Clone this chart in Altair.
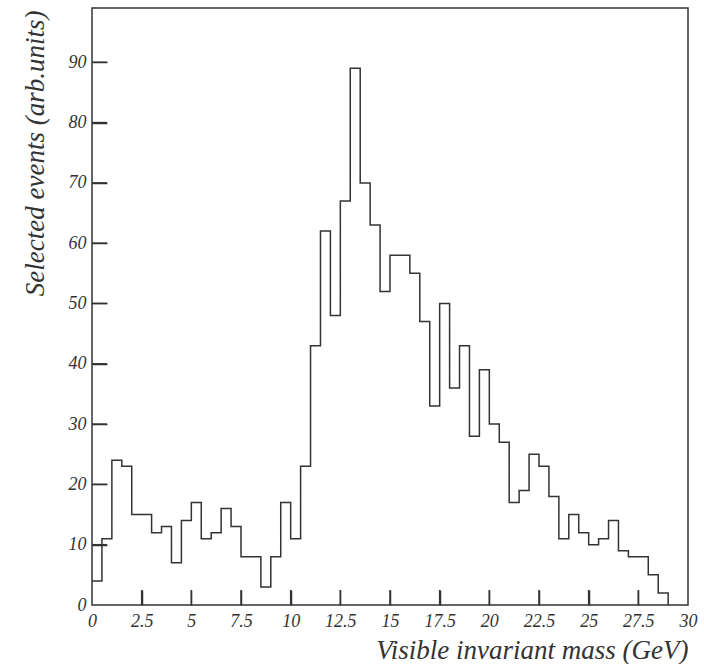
import altair as alt
import pandas as pd

# Histogram of selected events, 0.5 GeV bins from 0 to 29 GeV
bin_width = 0.5
counts = [4, 11, 24, 23, 15, 15, 12, 13, 7, 14,
          17, 11, 12, 16, 13, 8, 8, 3, 8, 17,
          11, 23, 43, 62, 48, 67, 89, 70, 63, 52,
          58, 58, 55, 47, 33, 50, 36, 43, 28, 39,
          30, 27, 17, 19, 25, 23, 18, 11, 15, 12,
          10, 11, 14, 9, 8, 8, 5, 2]

x_ticks = [2.5, 5, 7.5, 10, 12.5, 15, 17.5, 20, 22.5, 25, 27.5]
y_ticks = [10, 20, 30, 40, 50, 60, 70, 80, 90]
x_labels = [0, 2.5, 5, 7.5, 10, 12.5, 15, 17.5, 20, 22.5, 25, 27.5, 30]
y_labels = [0, 10, 20, 30, 40, 50, 60, 70, 80, 90]

W, H = 596, 597
FONT = "Liberation Serif, Times New Roman, serif"
INK = "#333333"

# step outline: each bin's left edge carries its count, closed at the last edge
edges = [i * bin_width for i in range(len(counts) + 1)]
hist = pd.DataFrame({"mass": edges, "events": counts + [0]})

x_scale = alt.Scale(domain=[0, 30], nice=False, zero=False)
y_scale = alt.Scale(domain=[0, 99], nice=False)

x_axis = alt.Axis(
    values=x_labels, labelExpr="datum.value", ticks=False, domain=False, grid=False,
    labelPadding=7, labelFlush=False, labelOverlap=False,
    title="Visible invariant mass (GeV)",
    titleAnchor="end", titleAlign="right", titleX=W, titleY=53,
    titleBaseline="alphabetic",
)
y_axis = alt.Axis(
    values=y_labels, labelExpr="datum.value", ticks=False, domain=False, grid=False,
    labelPadding=6, labelFlush=False, labelOverlap=False,
    title="Selected events (arb.units)",
    titleAngle=270, titleAlign="right", titleX=-49, titleY=2,
    titleBaseline="alphabetic",
)

# tick-only axes moved onto the opposite edge so their ticks point into the plot
x_tick_axis = alt.Axis(
    orient="top", offset=-H, values=x_ticks, labels=False, domain=False,
    grid=False, ticks=True, tickSize=15, tickWidth=1.5, tickColor=INK, title=None,
)
y_tick_axis = alt.Axis(
    orient="right", offset=-W, values=y_ticks, labels=False, domain=False,
    grid=False, ticks=True, tickSize=15, tickWidth=1.5, tickColor=INK, title=None,
)

line = alt.Chart(hist).mark_line(
    interpolate="step-after", color=INK, strokeWidth=1.5
).encode(
    x=alt.X("mass:Q", scale=x_scale, axis=x_axis),
    y=alt.Y("events:Q", scale=y_scale, axis=y_axis),
)

xt = alt.Chart(pd.DataFrame({"v": x_ticks})).mark_tick(
    orient="vertical", color=INK, thickness=1.5, size=15, opacity=1
).encode(
    x=alt.X("v:Q", scale=x_scale, axis=x_tick_axis), y=alt.value(H - 7.5)
)
yt = alt.Chart(pd.DataFrame({"v": y_ticks})).mark_tick(
    orient="horizontal", color=INK, thickness=1.5, size=15, opacity=1
).encode(
    y=alt.Y("v:Q", scale=y_scale, axis=y_tick_axis), x=alt.value(7.5)
)

chart = alt.layer(line, xt, yt).resolve_axis(
    x="independent", y="independent"
).properties(
    width=W, height=H,
    autosize=alt.AutoSizeParams(type="none"),
    padding={"left": 92, "top": 8, "right": 16, "bottom": 59},
    background="white",
).configure_view(
    stroke=INK, strokeWidth=1.5
).configure_axis(
    labelFont=FONT, labelFontStyle="italic", labelFontSize=18, labelColor=INK,
    titleFont=FONT, titleFontStyle="italic", titleFontWeight="normal",
    titleFontSize=27, titleColor=INK,
)

chart.save("out.html", embed_options={"renderer": "svg", "actions": False})
